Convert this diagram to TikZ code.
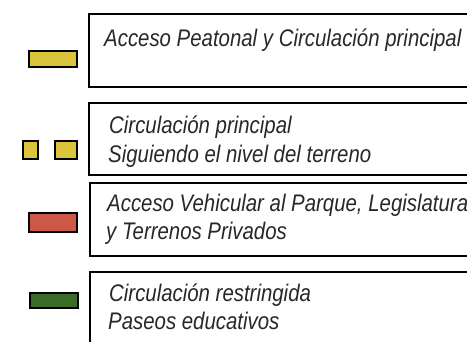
\documentclass[tikz,border=0pt]{standalone}
\usepackage{fontspec}
\setmainfont{Liberation Sans}
\newfontfamily\lgfont[FakeStretch=0.85]{Liberation Sans Italic}
\definecolor{swyellow}{RGB}{218,196,58}
\definecolor{swred}{RGB}{206,88,72}
\definecolor{swgreen}{RGB}{58,108,40}
\definecolor{txtgray}{RGB}{40,40,40}
\tikzset{
  legbox/.style={draw=black, line width=2pt},
  swatch/.style={draw=black, line width=2.4pt},
  legtext/.style={anchor=base west, inner sep=0pt, text=txtgray, font=\lgfont\fontsize{24}{28}\selectfont}
}
\begin{document}
\begin{tikzpicture}[x=1pt,y=-1pt]
\useasboundingbox (0,0) rectangle (467,342);
\fill[white] (0,0) rectangle (467,342);
\clip (0,0) rectangle (467,342);
% boxes
\draw[legbox] (600,14) -- (89,14) -- (89,87) -- (600,87);
\draw[legbox] (600,103) -- (89,103) -- (89,175) -- (600,175);
\draw[legbox] (600,183) -- (90,183) -- (90,256) -- (600,256);
\draw[legbox] (600,272) -- (90,272) -- (90,360);
% swatches
\filldraw[swatch, fill=swyellow] (29,51) rectangle (77,67);
\filldraw[swatch, fill=swyellow] (23,141) rectangle (38,159);
\filldraw[swatch, fill=swyellow] (55,141) rectangle (77,159);
\filldraw[swatch, fill=swred] (29,213) rectangle (77,232);
\filldraw[swatch, fill=swgreen] (30,293) rectangle (78,308);
% texts
\node[legtext] (t1) at (104,47) {Acceso Peatonal y Circulación principal};
\node[legtext] (t2a) at (109,134) {Circulación principal};
\node[legtext] (t2b) at (108,163) {Siguiendo el nivel del terreno};
\node[legtext] (t3a) at (107,212) {Acceso Vehicular al Parque, Legislatura};
\node[legtext] (t3b) at (106,240) {y Terrenos Privados};
\node[legtext] (t4a) at (109,302) {Circulación restringida};
\node[legtext] (t4b) at (108,330) {Paseos educativos};
\end{tikzpicture}
\end{document}
